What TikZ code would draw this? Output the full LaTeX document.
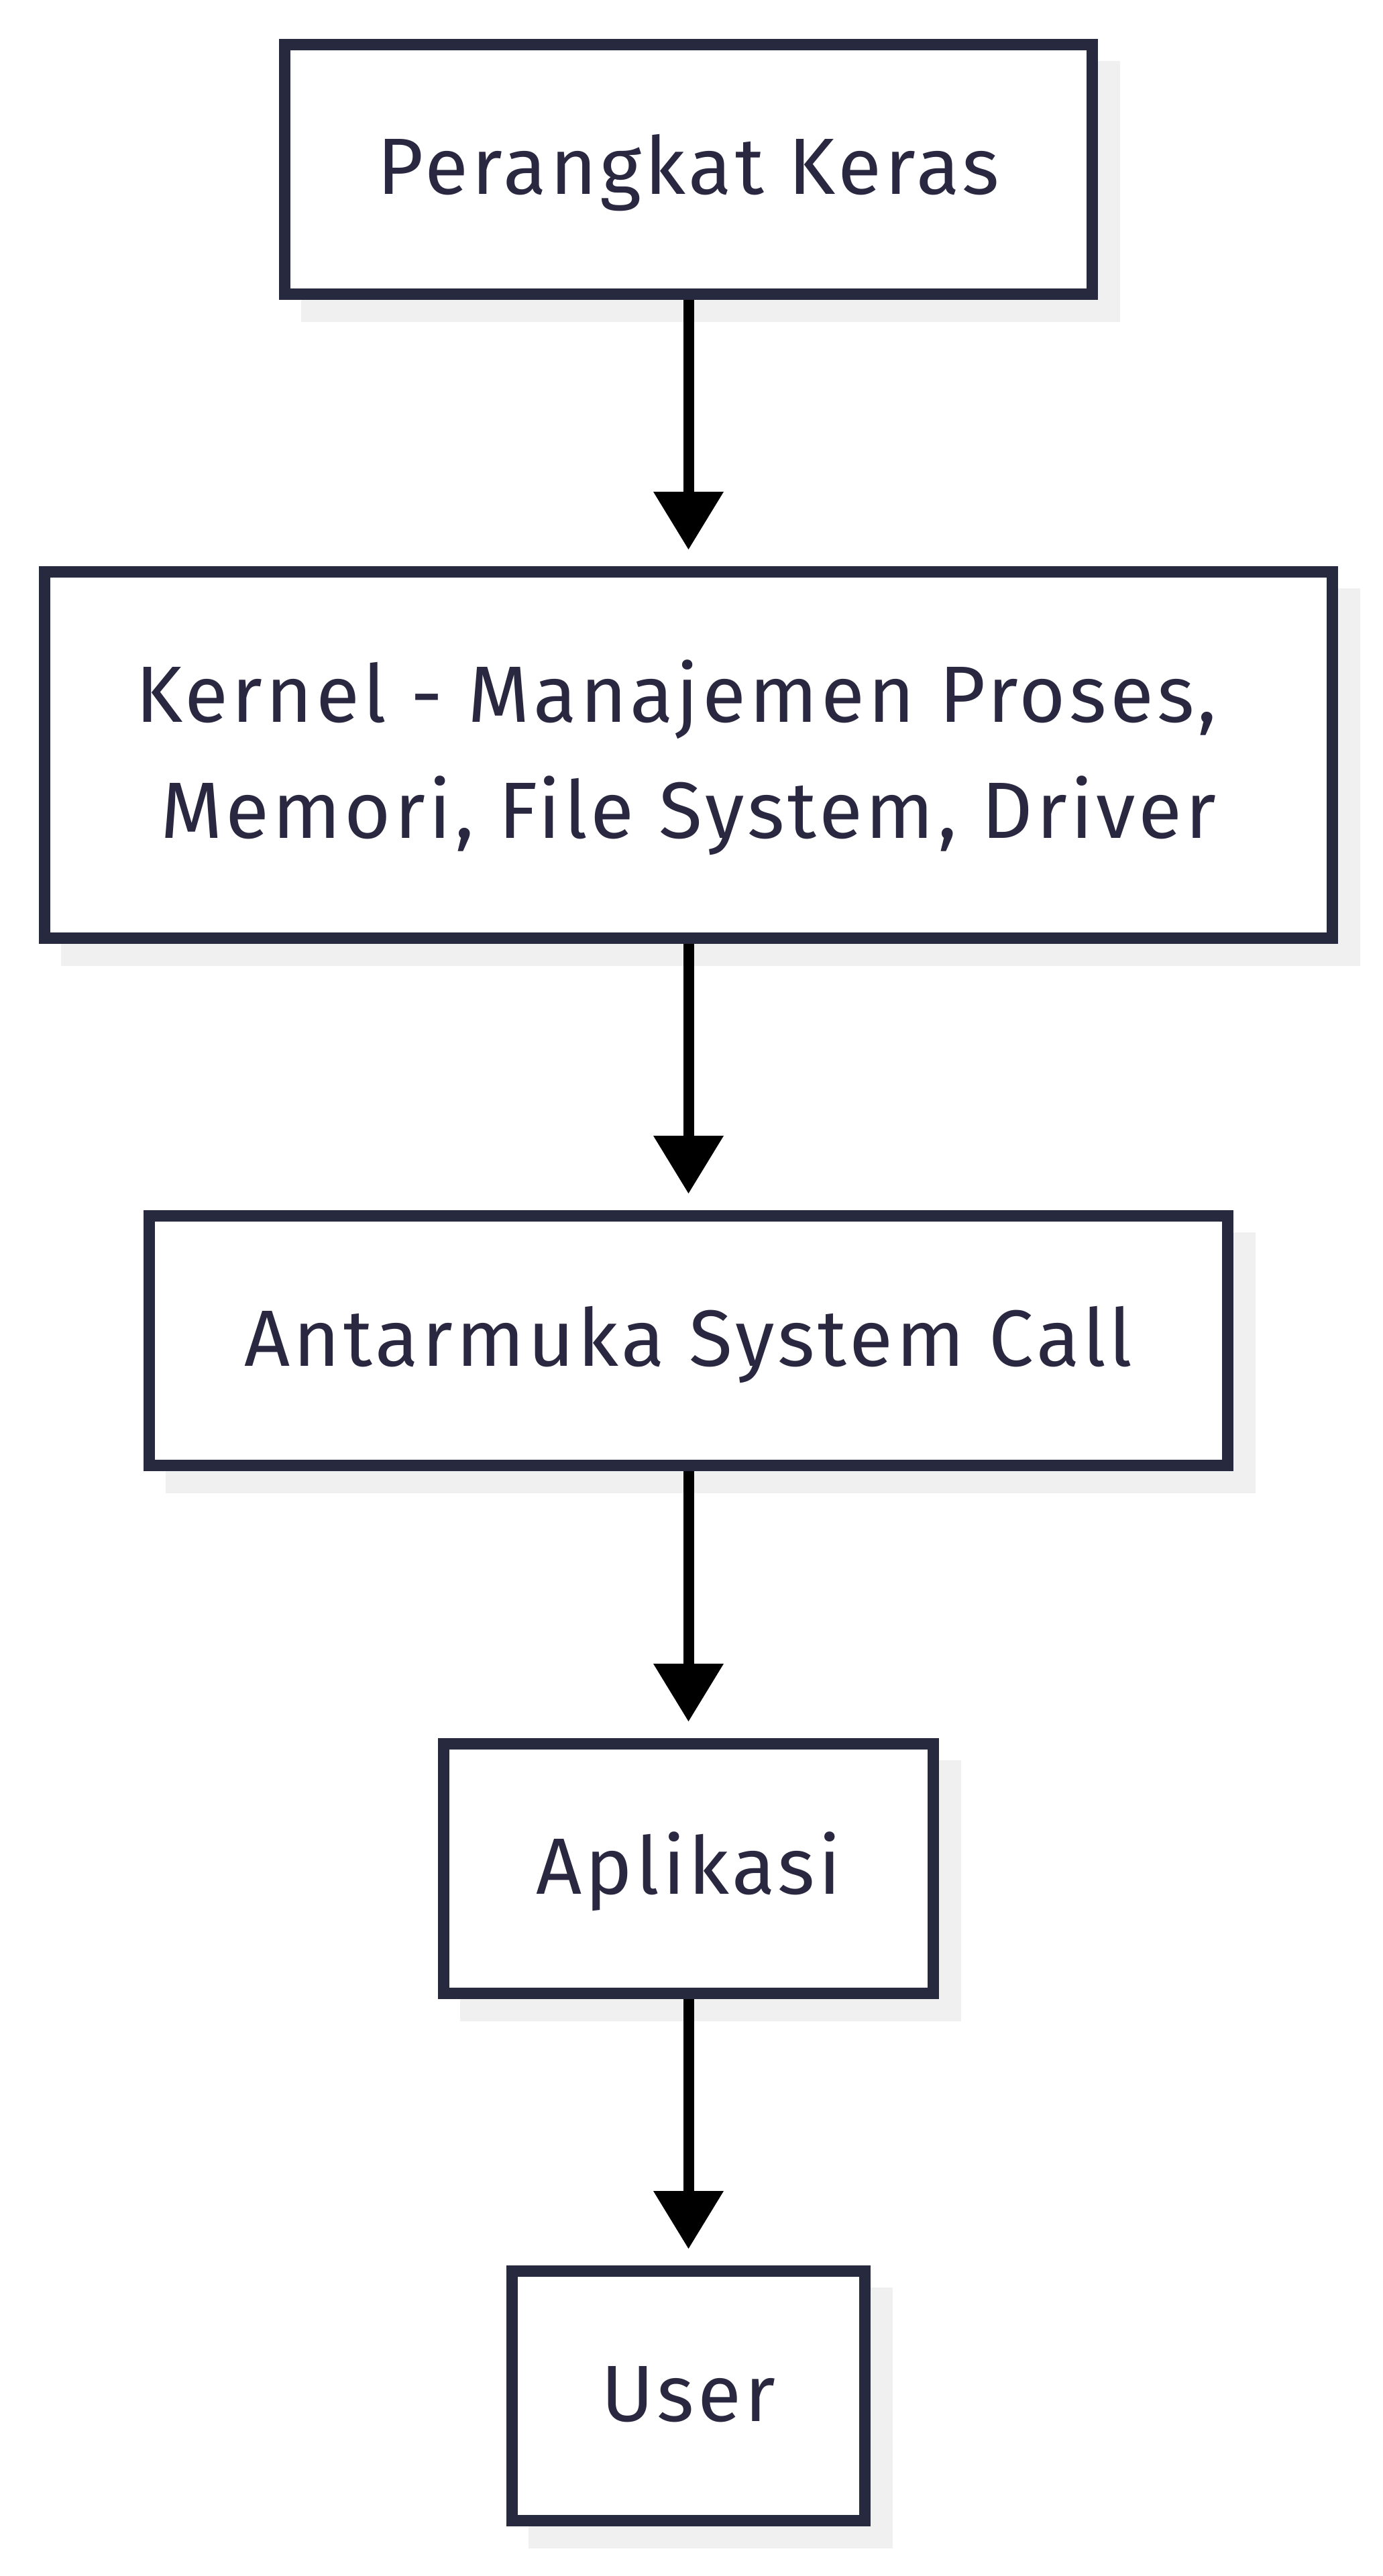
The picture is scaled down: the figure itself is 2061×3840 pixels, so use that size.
\documentclass[tikz,border=0pt]{standalone}
\usepackage{fontspec}
\setmainfont{Fira Sans}[LetterSpace=4.3]
\usetikzlibrary{arrows.meta,backgrounds}
\definecolor{navy}{RGB}{39,41,62}
\definecolor{txt}{RGB}{42,40,64}
\definecolor{shadowgray}{RGB}{240,240,240}
\newcommand\twolines[2]{\vbox{\baselineskip=173pt\lineskiplimit=-1000pt\halign{\hfil##\hfil\cr #1\cr #2\cr}}}
\begin{document}
\begin{tikzpicture}[x=1pt,y=-1pt,
  box/.style={draw=navy, line width=17pt, fill=white, inner sep=0pt, text=txt,
    font=\fontsize{119}{173}\selectfont, minimum height=372pt,
    text height=82pt, text depth=7pt},
  conn/.style={line width=16pt, draw=black,
    -{Triangle[width=105pt,length=86pt,line width=0pt]}, shorten >=25pt}]
\useasboundingbox (0,0) rectangle (2061,3840);
\node[box, minimum width=1204pt] (hw) at (1026.5,252.5) {Perangkat Keras};
\node[box, minimum width=1920pt, minimum height=546pt, text height=255pt, text depth=7pt] (kr) at (1026.5,1125.5)
  {\twolines{Kernel - Manajemen Proses,\ }{Memori, File System, Driver}};
\node[box, minimum width=1608pt] (sc) at (1026.5,1998.5) {Antarmuka System Call};
\node[box, minimum width=730pt] (ap) at (1026.5,2785.5) {Aplikasi};
\node[box, minimum width=526pt] (us) at (1026.5,3571.5) {User};
\begin{scope}[on background layer]
  \fill[white] (0,0) rectangle (2061,3840);
  \foreach \n in {hw,kr,sc,ap,us}
    \fill[shadowgray] ([shift={(33,33)}]\n.north west) rectangle ([shift={(33,33)}]\n.south east);
\end{scope}
\draw[conn] (hw) -- (kr);
\draw[conn] (kr) -- (sc);
\draw[conn] (sc) -- (ap);
\draw[conn] (ap) -- (us);
\end{tikzpicture}
\end{document}
